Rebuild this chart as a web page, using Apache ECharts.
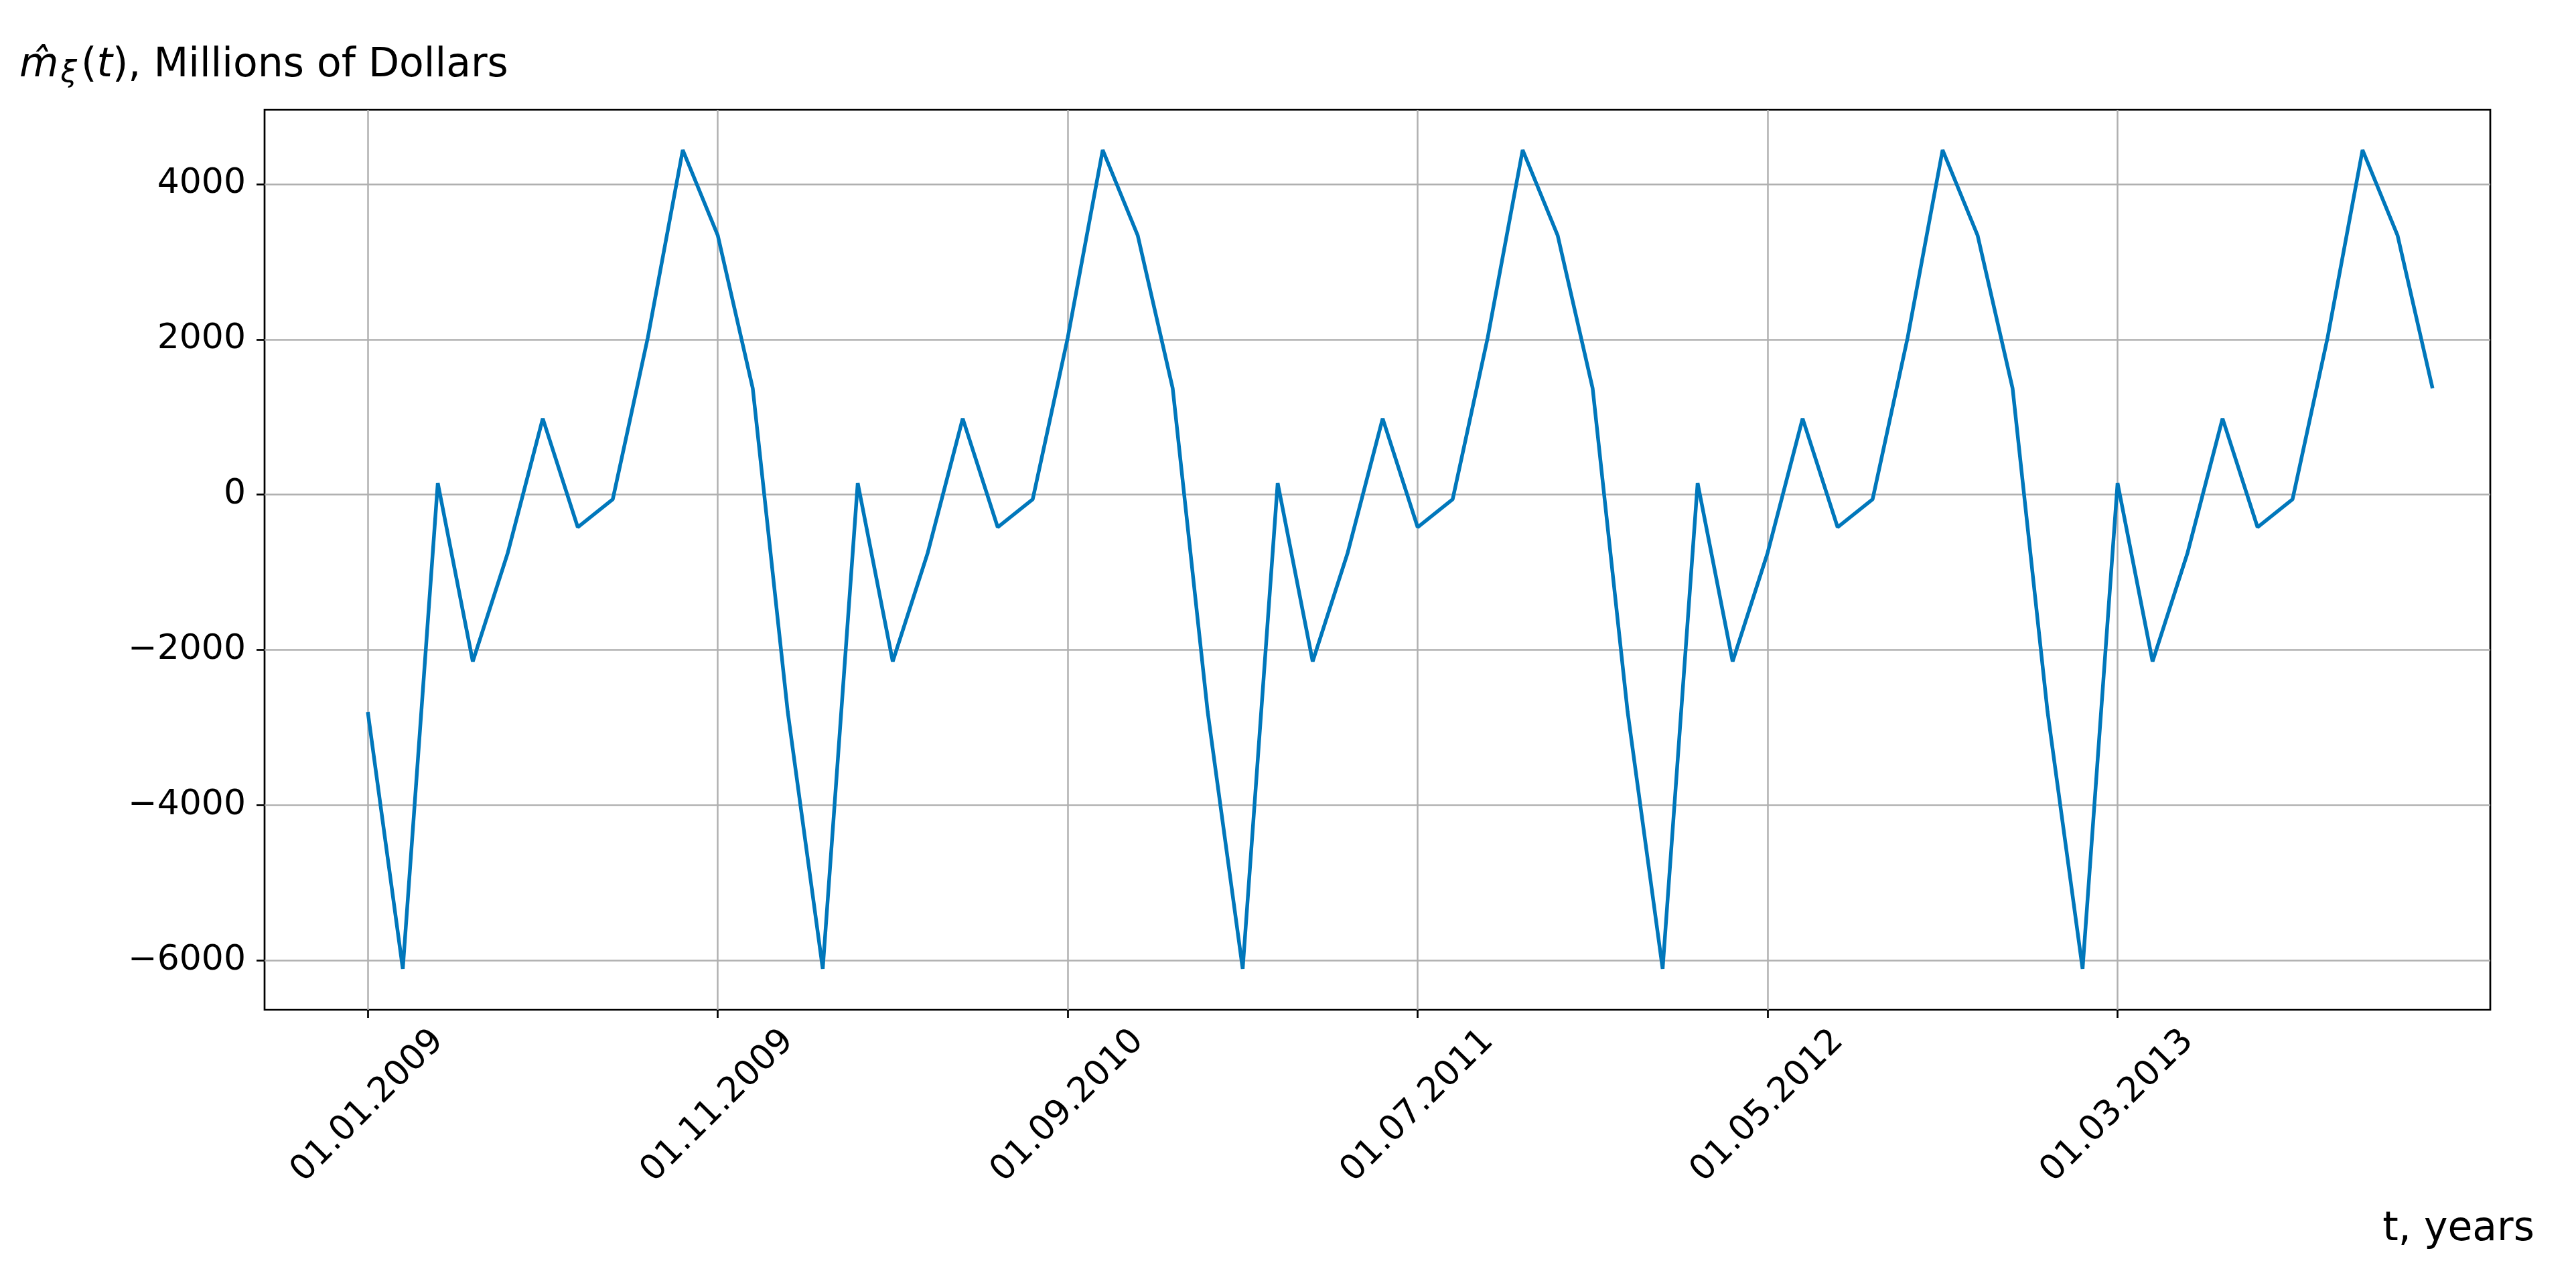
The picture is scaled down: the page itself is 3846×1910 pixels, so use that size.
<!DOCTYPE html>
<html>
<head>
<meta charset="utf-8">
<title>m_xi(t)</title>
<script src="https://cdn.jsdelivr.net/npm/echarts@6/dist/echarts.min.js"></script>
<style>
  html, body { margin: 0; padding: 0; background: #fff; }
  #chart { width: 3846px; height: 1910px; }
</style>
</head>
<body>
<div id="chart"></div>
<script>
// monthly values, Jan 2009 .. Dec 2013 (millions of dollars)
const values2009 = [-2800, -6110, 150, -2150, -750, 980, -420, -60, 2020, 4440, 3340, 1370];
const values2010 = [-2800, -6110, 150, -2150, -750, 980, -420, -60, 2020, 4440, 3340, 1370];
const values2011 = [-2800, -6110, 150, -2150, -750, 980, -420, -60, 2020, 4440, 3340, 1370];
const values2012 = [-2800, -6110, 150, -2150, -750, 980, -420, -60, 2020, 4440, 3340, 1370];
const values2013 = [-2800, -6110, 150, -2150, -750, 980, -420, -60, 2020, 4440, 3340, 1370];

// x ticks (month index from 01.01.2009) and their labels
const xTicks = [0, 10, 20, 30, 40, 50];
const xTickLabels = ['01.01.2009', '01.11.2009', '01.09.2010', '01.07.2011', '01.05.2012', '01.03.2013'];
const yTicks = [-6000, -4000, -2000, 0, 2000, 4000];

const values = [].concat(values2009, values2010, values2011, values2012, values2013);
const seriesData = values.map((v, i) => [i, v]);

const chart = echarts.init(document.getElementById('chart'));
const font = 'DejaVu Sans';

const option = {
	animation: false,
	backgroundColor: '#fff',
	title: {
		left: 24,
		top: 58,
		text: '{it|m\u0302}{sub|ξ}{p|(}{it|t}{p|), Millions of Dollars}',
		textStyle: {
			rich: {
				it: { fontFamily: font, fontStyle: 'italic', fontWeight: 'normal', fontSize: 60, lineHeight: 70, color: '#000' },
				p: { fontFamily: font, fontWeight: 'normal', fontSize: 60, lineHeight: 70, color: '#000' },
				sub: { fontFamily: font, fontStyle: 'italic', fontWeight: 'normal', fontSize: 44, lineHeight: 44, verticalAlign: 'bottom', padding: [0, 6, 0, 3], color: '#000' },
			},
		},
	},
	grid: {
		left: 395,
		right: 128,
		top: 164,
		bottom: 402,
		show: true,
		borderColor: '#000',
		borderWidth: 2.7,
		containLabel: false,
	},
	xAxis: {
		type: 'value',
		min: -2.95,
		max: 60.65,
		axisLine: { show: false, onZero: false },
		axisTick: {
			show: true,
			customValues: xTicks,
			length: 12,
			lineStyle: { color: '#000', width: 2.7 },
		},
		axisLabel: {
			customValues: xTicks,
			rotate: 45,
			align: 'center',
			verticalAlign: 'middle',
			margin: 144,
			fontFamily: font,
			fontSize: 52,
			color: '#000',
			formatter: (v) => xTickLabels[xTicks.indexOf(Math.round(v))] || '',
		},
		splitLine: { show: true, lineStyle: { color: '#b0b0b0', width: 2.5 } },
	},
	yAxis: {
		type: 'value',
		min: -6637,
		max: 4957,
		axisLine: { show: false, onZero: false },
		axisTick: {
			show: true,
			customValues: yTicks,
			length: 12,
			lineStyle: { color: '#000', width: 2.7 },
		},
		axisLabel: {
			customValues: yTicks,
			margin: 28,
			fontFamily: font,
			fontSize: 52,
			color: '#000',
			formatter: (v) => String(v).replace('-', '\u2212'),
		},
		splitLine: { show: true, lineStyle: { color: '#b0b0b0', width: 2.5 } },
	},
	graphic: [
		{
			type: 'text',
			right: 62,
			top: 1806,
			style: { text: 't, years', fontFamily: font, fontSize: 60, fill: '#000' },
		},
	],
	series: [
		{
			type: 'line',
			data: seriesData,
			showSymbol: false,
			lineStyle: { color: '#0077bb', width: 5.5 },
		},
	],
};

chart.setOption(option);
</script>
</body>
</html>
